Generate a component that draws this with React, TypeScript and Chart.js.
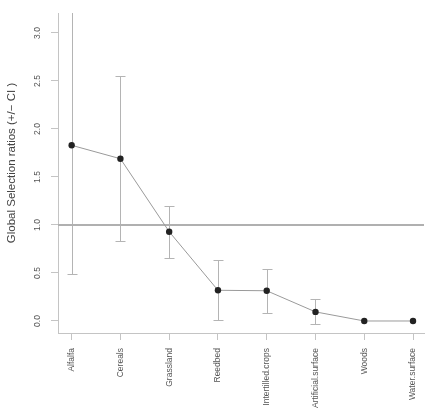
import React, { useEffect, useRef } from "react";
import { Chart, registerables } from "chart.js";

Chart.register(...registerables);

const categories = [
  "Alfalfa",
  "Cereals",
  "Grassland",
  "Reedbed",
  "Intertilled.crops",
  "Artificial.surface",
  "Woods",
  "Water.surface",
];
const ratios = [1.83, 1.69, 0.93, 0.32, 0.315, 0.095, 0.0, 0.0];
const lowerCI = [0.49, 0.83, 0.66, 0.01, 0.08, -0.03, 0.0, 0.0];
const upperCI = [3.5, 2.55, 1.2, 0.64, 0.545, 0.225, 0.0, 0.0];
const yTicks = [0, 0.5, 1.0, 1.5, 2.0, 2.5, 3.0];
const referenceLevel = 1.0;
const yTitle = "Global Selection ratios (+/\u2212 CI )";

const AXIS_COLOR = "#c4c4c4";
const TEXT_COLOR = "#555555";
const FONT = "'Liberation Sans', Arial, sans-serif";

const errorBarPlugin = {
  id: "errorBars",
  beforeDatasetsDraw(chart: any) {
    const { ctx, chartArea, scales } = chart;
    const xs = scales.x;
    const ys = scales.y;
    ctx.save();
    ctx.beginPath();
    ctx.rect(chartArea.left, chartArea.top, chartArea.right - chartArea.left, chartArea.bottom - chartArea.top);
    ctx.clip();
    ctx.strokeStyle = "#b4b4b4";
    ctx.lineWidth = 1;
    const cap = 5;
    categories.forEach((_, i) => {
      if (upperCI[i] === lowerCI[i]) return;
      const x = Math.round(xs.getPixelForValue(i + 1)) + 0.5;
      const yl = Math.round(ys.getPixelForValue(lowerCI[i])) + 0.5;
      const yu = Math.round(ys.getPixelForValue(upperCI[i])) + 0.5;
      ctx.beginPath();
      ctx.moveTo(x, yl);
      ctx.lineTo(x, yu);
      ctx.moveTo(x - cap, yl);
      ctx.lineTo(x + cap, yl);
      ctx.moveTo(x - cap, yu);
      ctx.lineTo(x + cap, yu);
      ctx.stroke();
    });
    ctx.restore();
  },
};

const yTitlePlugin = {
  id: "yTitle",
  afterDraw(chart: any) {
    const { ctx, chartArea } = chart;
    ctx.save();
    ctx.translate(12, (chartArea.top + chartArea.bottom) / 2 - 10);
    ctx.rotate(-Math.PI / 2);
    ctx.font = `11.5px ${FONT}`;
    ctx.fillStyle = "#444444";
    ctx.textAlign = "center";
    ctx.textBaseline = "middle";
    ctx.fillText(yTitle, 0, 0);
    ctx.restore();
  },
};

export default function App() {
  const canvasRef = useRef<HTMLCanvasElement | null>(null);

  useEffect(() => {
    if (!canvasRef.current) return;
    const xMin = 0.72;
    const xMax = 8.225;
    const chart = new Chart(canvasRef.current, {
      type: "line",
      data: {
        datasets: [
          {
            data: [
              { x: xMin, y: referenceLevel },
              { x: xMax, y: referenceLevel },
            ],
            borderColor: "#b0b0b0",
            borderWidth: 2,
            pointRadius: 0,
            order: 2,
          },
          {
            data: categories.map((_, i) => ({ x: i + 1, y: ratios[i] })),
            borderColor: "#9a9a9a",
            borderWidth: 1,
            pointRadius: 3.2,
            pointBackgroundColor: "#222222",
            pointBorderColor: "#222222",
            pointBorderWidth: 0,
            order: 1,
          },
        ],
      },
      options: {
        animation: false,
        responsive: false,
        layout: { padding: { top: 13, left: 0, right: 0, bottom: 0 } },
        plugins: {
          legend: { display: false },
          tooltip: { enabled: false },
        },
        scales: {
          x: {
            type: "linear",
            min: xMin,
            max: xMax,
            afterBuildTicks: (scale: any) => {
              scale.ticks = categories.map((_, i) => ({ value: i + 1 }));
            },
            afterFit: (scale: any) => {
              scale.height = 78;
              scale.paddingLeft = 0;
              scale.paddingRight = 0;
            },
            border: { display: true, color: AXIS_COLOR, width: 1 },
            grid: {
              drawOnChartArea: false,
              drawTicks: true,
              tickLength: 7,
              color: AXIS_COLOR,
            },
            ticks: {
              autoSkip: false,
              minRotation: 90,
              maxRotation: 90,
              padding: 8,
              color: TEXT_COLOR,
              font: { family: FONT, size: 8.5 },
              callback: (v: any) => categories[Number(v) - 1] ?? "",
            },
          },
          y: {
            type: "linear",
            min: -0.125,
            max: 3.208,
            afterBuildTicks: (scale: any) => {
              scale.ticks = yTicks.map((v) => ({ value: v }));
            },
            afterFit: (scale: any) => {
              scale.width = 58;
              scale.paddingTop = 0;
              scale.paddingBottom = 0;
            },
            border: { display: true, color: AXIS_COLOR, width: 1 },
            grid: {
              drawOnChartArea: false,
              drawTicks: true,
              tickLength: 7,
              color: AXIS_COLOR,
            },
            ticks: {
              minRotation: 90,
              maxRotation: 90,
              crossAlign: "center",
              padding: 7,
              color: TEXT_COLOR,
              font: { family: FONT, size: 8.5 },
              callback: (v: any) => Number(v).toFixed(1),
            },
            title: { display: false },
          },
        },
      },
      plugins: [errorBarPlugin, yTitlePlugin],
    } as any);
    return () => chart.destroy();
  }, []);

  return (
    <div style={{ position: "fixed", left: 0, top: 0, width: 428, height: 411, background: "#ffffff" }}>
      <canvas ref={canvasRef} width={428} height={411} style={{ display: "block" }} />
    </div>
  );
}
